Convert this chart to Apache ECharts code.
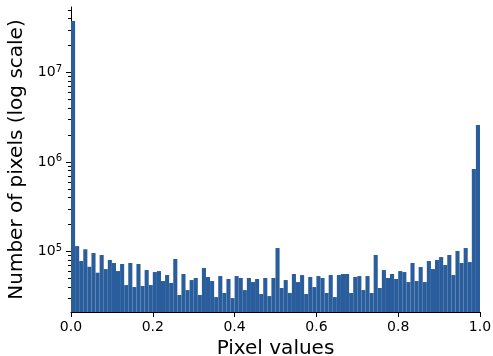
<!DOCTYPE html>
<html>
<head>
<meta charset="utf-8">
<script src="https://cdn.jsdelivr.net/npm/echarts@6/dist/echarts.min.js"></script>
<style>
  html, body { margin: 0; padding: 0; background: #fff; }
  #chart { width: 493px; height: 356px; }
</style>
</head>
<body>
<div id="chart"></div>
<script>
  // histogram, 100 bins from 0 to 1
  const binStarts = Array.from({length: 100}, (_, i) => (i / 100).toFixed(2));
  const counts = [
    37600000, 115000, 78300, 106000, 67600, 96200, 58000, 91400, 63700, 80400,
    74400, 60500, 72500, 42200, 74400, 40100, 72500, 41200, 62100, 42200,
    59000, 60500, 46800, 54600, 44500, 82500, 32700, 56100, 37100, 48000,
    50600, 32700, 65400, 51900, 46800, 31000, 53200, 34400, 49300, 30200,
    53200, 50600, 37100, 50600, 45600, 49300, 33500, 50600, 31800, 50600,
    109400, 39100, 48000, 34400, 56100, 45600, 54600, 33500, 51900, 40100,
    53200, 50600, 34400, 54600, 31000, 54600, 56100, 56100, 34400, 51900,
    53200, 37100, 53200, 34400, 91400, 39100, 62100, 50600, 56100, 49300,
    60500, 59000, 45600, 74400, 46800, 67100, 45600, 78300, 63700, 80400,
    86800, 70700, 91400, 54600, 101300, 74400, 109400, 76300, 835000, 2590000
  ];
  const xTicks = [0, 0.2, 0.4, 0.6, 0.8, 1.0];
  const yMajorTicks = [1e5, 1e6, 1e7];
  const yMinorTicks = [3e4, 4e4, 5e4, 6e4, 7e4, 8e4, 9e4,
    2e5, 3e5, 4e5, 5e5, 6e5, 7e5, 8e5, 9e5,
    2e6, 3e6, 4e6, 5e6, 6e6, 7e6, 8e6, 9e6,
    2e7, 3e7, 4e7, 5e7];
  const yMin = 21100, yMax = 54000000;

  const font = 'DejaVu Sans';
  const barColor = '#295d9b';
  const gridRect = {left: 71, right: 13, top: 7, bottom: 44};

  let chart = echarts.init(document.getElementById('chart'), null, {renderer: 'canvas'});
  chart.setOption({
    animation: false,
    backgroundColor: '#fff',
    grid: [
      Object.assign({outerBoundsMode: 'none'}, gridRect),
      Object.assign({outerBoundsMode: 'none'}, gridRect)
    ],
    xAxis: [{
      // bins
      type: 'category',
      gridIndex: 0,
      position: 'top',
      data: binStarts,
      boundaryGap: true,
      show: false
    }, {
      // visible 0..1 axis
      type: 'value',
      gridIndex: 0,
      position: 'bottom',
      min: 0,
      max: 1,
      interval: 0.2,
      name: 'Pixel values',
      nameLocation: 'middle',
      nameGap: 24,
      nameTextStyle: {fontFamily: font, fontSize: 20, color: '#000'},
      splitLine: {show: false},
      axisLine: {show: true, lineStyle: {color: '#000', width: 1}},
      axisTick: {show: true, length: 5, customValues: xTicks, lineStyle: {color: '#000', width: 1}},
      axisLabel: {
        fontFamily: font, fontSize: 14, color: '#000', margin: 8,
        customValues: xTicks,
        formatter: v => v.toFixed(1)
      }
    }, {
      type: 'value',
      gridIndex: 1,
      min: 0,
      max: 1,
      show: false
    }],
    yAxis: [{
      type: 'log',
      logBase: 10,
      gridIndex: 0,
      position: 'left',
      min: yMin,
      max: yMax,
      name: 'Number of pixels (log scale)',
      nameLocation: 'middle',
      nameGap: 42,
      nameTextStyle: {fontFamily: font, fontSize: 20, color: '#000'},
      splitLine: {show: false},
      axisLine: {show: true, lineStyle: {color: '#000', width: 1}},
      axisTick: {show: true, length: 5, customValues: yMajorTicks, lineStyle: {color: '#000', width: 1}},
      axisLabel: {
        customValues: yMajorTicks,
        margin: 9,
        formatter: v => '{b|10}{s|' + Math.round(Math.log10(v)) + '}',
        rich: {
          b: {fontFamily: font, fontSize: 14, color: '#000'},
          s: {fontFamily: font, fontSize: 10, color: '#000', padding: [0, 0, 7, 0]}
        }
      }
    }, {
      // minor ticks
      type: 'log',
      logBase: 10,
      gridIndex: 1,
      position: 'left',
      min: yMin,
      max: yMax,
      axisLine: {show: false},
      splitLine: {show: false},
      axisTick: {show: true, length: 3, customValues: yMinorTicks, lineStyle: {color: '#000', width: 1}},
      axisLabel: {show: false}
    }],
    series: [{
      type: 'bar',
      xAxisIndex: 0,
      yAxisIndex: 0,
      data: counts,
      barWidth: '100%',
      barCategoryGap: 0,
      clip: true,
      itemStyle: {color: barColor, borderColor: barColor, borderWidth: 0, opacity: 1},
      emphasis: {disabled: true}
    }]
  });
</script>
</body>
</html>
